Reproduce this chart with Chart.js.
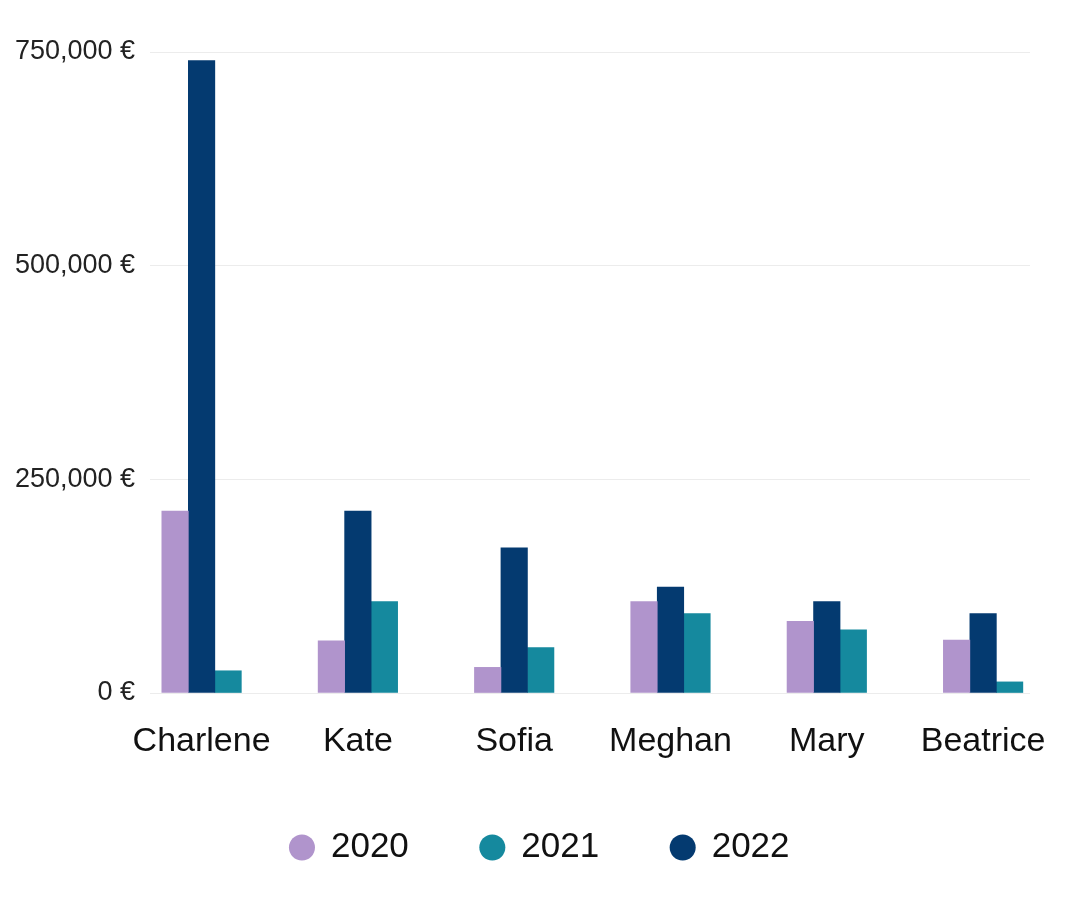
<!DOCTYPE html>
<html>
<head>
<meta charset="utf-8">
<script src="https://cdn.jsdelivr.net/npm/chart.js@4/dist/chart.umd.min.js"></script>
<style>
  html, body { margin: 0; padding: 0; background: #fff; }
  #wrap { width: 1080px; height: 920px; position: relative; }
</style>
</head>
<body>
<div id="wrap"><canvas id="chart"></canvas></div>
<script>
const categories = ["Charlene", "Kate", "Sofia", "Meghan", "Mary", "Beatrice"];
const values2020 = [213000, 61000, 30000, 107000, 84000, 62000];
const values2021 = [26000, 107000, 53000, 93000, 74000, 13000];
const values2022 = [740000, 213000, 170000, 124000, 107000, 93000];
const yTicks = [0, 250000, 500000, 750000];

const FONT = "'Liberation Sans', Arial, sans-serif";

// bars sit on a linear x scale so the group positions line up with the picture
function points(values) {
  return values.map((v, i) => ({ x: i, y: v }));
}

const ctx = document.getElementById("chart").getContext("2d");

new Chart(ctx, {
  type: "bar",
  data: {
    datasets: [
      { label: "2020", data: points(values2020), backgroundColor: "#b094cc" },
      { label: "2022", data: points(values2022), backgroundColor: "#043a70" },
      { label: "2021", data: points(values2021), backgroundColor: "#15899e" },
    ],
  },
  options: {
    responsive: true,
    maintainAspectRatio: false,
    animation: false,
    layout: {
      padding: { top: 52, right: 0, bottom: 45, left: 0 },
    },
    datasets: {
      bar: { barThickness: 26.5, borderWidth: 0 },
    },
    plugins: {
      tooltip: { enabled: false },
      legend: {
        position: "bottom",
        labels: {
          usePointStyle: true,
          pointStyle: "circle",
          boxWidth: 23,
          boxHeight: 18.4,
          padding: 72,
          color: "#111",
          font: { family: FONT, size: 35 },
          sort: (a, b) => a.text.localeCompare(b.text),
        },
      },
    },
    scales: {
      x: {
        type: "linear",
        min: -0.33,
        max: 5.3,
        offset: false,
        grid: { display: false, drawTicks: false },
        border: { display: false },
        ticks: {
          stepSize: 1,
          includeBounds: false,
          autoSkip: false,
          maxRotation: 0,
          padding: 28,
          color: "#111",
          font: { family: FONT, size: 34 },
          callback: (v) => categories[v] ?? "",
        },
        afterFit: (scale) => { scale.height = 65; },
      },
      y: {
        min: 0,
        max: 750000,
        grid: { color: "#ececec", lineWidth: 1, drawTicks: false },
        border: { display: false },
        afterBuildTicks: (scale) => {
          scale.ticks = yTicks.map((v) => ({ value: v }));
        },
        ticks: {
          padding: 15,
          color: "#222",
          font: { family: FONT, size: 27 },
          callback: (v) => v.toLocaleString("en-US") + " €",
        },
        afterFit: (scale) => { scale.width = 150; },
      },
      // empty right margin, keeps the legend centred on the whole page
      yRight: {
        position: "right",
        grid: { display: false },
        border: { display: false },
        ticks: { display: false },
        afterFit: (scale) => { scale.width = 50; },
      },
    },
  },
});
</script>
</body>
</html>
